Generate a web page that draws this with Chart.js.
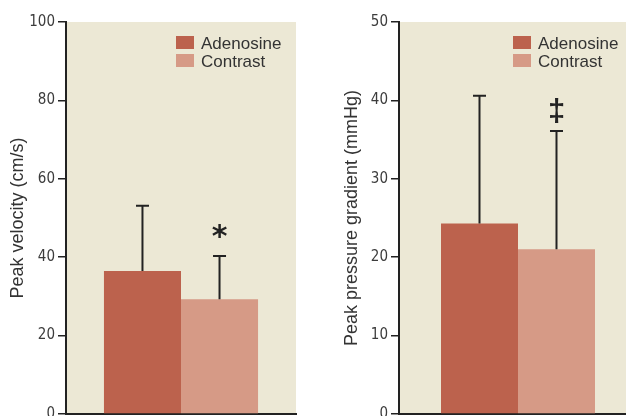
<!DOCTYPE html>
<html>
<head>
<meta charset="utf-8">
<script src="https://cdn.jsdelivr.net/npm/chart.js@4/dist/chart.umd.min.js"></script>
<style>
	html, body { margin: 0; padding: 0; background: #fff; overflow: hidden; }
	#wrap { position: relative; width: 626px; height: 416px; overflow: hidden; }
	#velocity { position: absolute; left: 0; top: 0; }
	#gradient { position: absolute; left: 313px; top: 0; }
</style>
</head>
<body>
<div id="wrap">
	<canvas id="velocity" width="313" height="416"></canvas>
	<canvas id="gradient" width="324" height="416"></canvas>
</div>
<script>
// data (mean with upward SD bar)
const groups = ['Adenosine', 'Contrast'];
const velocityMean = [36.5, 29.3];
const velocitySD = [16.6, 11.0];
const velocityMarks = ['', '*'];
const velocityTicks = [0, 20, 40, 60, 80, 100];

const gradientMean = [24.3, 21.0];
const gradientSD = [16.3, 15.1];
const gradientMarks = ['', '\u2021'];
const gradientTicks = [0, 10, 20, 30, 40, 50];

const barColors = ['#bc624d', '#d69a86'];

const panelPlugin = {
	id: 'panel',
	beforeDraw(chart) {
		const { ctx, chartArea: a } = chart;
		ctx.save();
		ctx.fillStyle = '#ece8d5';
		ctx.fillRect(a.left, a.top, a.right - a.left, a.bottom - a.top);
		ctx.restore();
	},
	afterDatasetsDraw(chart, args, opts) {
		const { ctx, chartArea: a } = chart;
		const y = chart.scales.y;
		ctx.save();
		ctx.strokeStyle = '#222';
		ctx.fillStyle = '#222';
		ctx.lineWidth = 2;
		chart.data.datasets.forEach((ds, i) => {
			const bar = chart.getDatasetMeta(i).data[0];
			const top = y.getPixelForValue(ds.data[0] + ds.sd);
			ctx.beginPath();
			ctx.moveTo(bar.x, bar.y);
			ctx.lineTo(bar.x, top);
			ctx.moveTo(bar.x - 6.5, top);
			ctx.lineTo(bar.x + 6.5, top);
			ctx.stroke();
			if (ds.mark) {
				ctx.font = opts.markFont;
				ctx.textAlign = 'center';
				ctx.textBaseline = 'alphabetic';
				const m = ctx.measureText(ds.mark);
				ctx.fillText(ds.mark, bar.x, top - opts.markGap - m.actualBoundingBoxDescent);
			}
		});

		// legend in the upper right of the panel
		ctx.font = '17px "Liberation Sans", Arial, sans-serif';
		ctx.textAlign = 'left';
		ctx.textBaseline = 'alphabetic';
		chart.data.datasets.forEach((ds, i) => {
			const lx = a.left + opts.legendX;
			const ly = a.top + 14 + i * 18;
			ctx.fillStyle = ds.backgroundColor;
			ctx.fillRect(lx, ly, 18, 13);
			ctx.fillStyle = '#333';
			ctx.fillText(ds.label, lx + 25, ly + 13);
		});
		ctx.restore();
	},
};

function makePanel(id, means, sds, marks, ticks, title, axisWidth, catPct, opts) {
	return new Chart(document.getElementById(id), {
		type: 'bar',
		data: {
			labels: [''],
			datasets: groups.map((g, i) => ({
				label: g,
				data: [means[i]],
				sd: sds[i],
				mark: marks[i],
				backgroundColor: barColors[i],
				borderWidth: 0,
			})),
		},
		options: {
			responsive: false,
			animation: false,
			devicePixelRatio: 1,
			categoryPercentage: catPct,
			barPercentage: 1,
			layout: { padding: { top: 22, bottom: 2, left: 0, right: opts.padRight } },
			plugins: {
				legend: { display: false },
				tooltip: { enabled: false },
				panel: opts,
			},
			scales: {
				x: {
					z: 1,
					ticks: { display: false },
					grid: { display: false },
					border: { display: true, color: '#222', width: 2 },
					afterFit: (s) => { s.height = 0; },
				},
				y: {
					min: ticks[0],
					max: ticks[ticks.length - 1],
					afterBuildTicks: (s) => { s.ticks = ticks.map((v) => ({ value: v })); },
					afterFit: (s) => {
						s.width = axisWidth;
						s.paddingTop = 0;
						s.paddingBottom = 0;
					},
					ticks: {
						color: '#3c3c3c',
						padding: 3,
						font: { family: '"Liberation Sans Narrow", "DejaVu Sans Condensed", sans-serif', size: 15 },
					},
					grid: {
						drawOnChartArea: false,
						drawTicks: true,
						tickLength: 8,
						color: '#222',
						lineWidth: 1.5,
					},
					border: { display: true, color: '#222', width: 2 },
					title: {
						display: true,
						text: title,
						color: '#333',
						padding: { top: opts.titlePad, bottom: 0 },
						font: { family: '"Liberation Sans", Arial, sans-serif', size: 18, weight: 'normal' },
					},
				},
			},
		},
		plugins: [panelPlugin],
	});
}

makePanel('velocity', velocityMean, velocitySD, velocityMarks, velocityTicks,
	'Peak velocity (cm/s)', 66, 0.67,
	{ padRight: 17, titlePad: 7, legendX: 110, markFont: 'bold 30px "DejaVu Sans", sans-serif', markGap: 17 });

makePanel('gradient', gradientMean, gradientSD, gradientMarks, gradientTicks,
	'Peak pressure gradient (mmHg)', 86, 0.647,
	{ padRight: 0, titlePad: 28, legendX: 114, markFont: 'bold 31px "Liberation Sans", sans-serif', markGap: 7 });
</script>
</body>
</html>
